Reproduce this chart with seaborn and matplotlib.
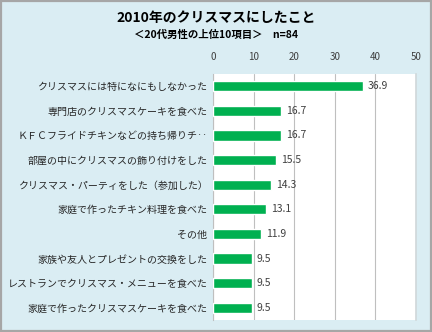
import matplotlib
matplotlib.use("Agg")
import matplotlib.pyplot as plt
import seaborn as sns
import pandas as pd
from matplotlib.patches import Rectangle

categories = [
    "クリスマスには特になにもしなかった",
    "専門店のクリスマスケーキを食べた",
    "ＫＦＣフライドチキンなどの持ち帰りチ‥",
    "部屋の中にクリスマスの飾り付けをした",
    "クリスマス・パーティをした（参加した）",
    "家庭で作ったチキン料理を食べた",
    "その他",
    "家族や友人とプレゼントの交換をした",
    "レストランでクリスマス・メニューを食べた",
    "家庭で作ったクリスマスケーキを食べた",
]
values = [36.9, 16.7, 16.7, 15.5, 14.3, 13.1, 11.9, 9.5, 9.5, 9.5]
xticks = [0, 10, 20, 30, 40, 50]
title = "2010年のクリスマスにしたこと"
subtitle = "＜20代男性の上位10項目＞　n=84"

sns.set_theme(style="white")
plt.rcParams['font.family'] = ['Noto Sans CJK JP', 'DejaVu Sans']

df = pd.DataFrame({"cat": categories, "val": values})

fig = plt.figure(figsize=(4.32, 3.32), dpi=100)
fig.patch.set_facecolor("#DAEDF3")
ax = fig.add_axes([213/432, 1 - 320/332, (416 - 213)/432, (320 - 74)/332])
ax.set_facecolor("white")

sns.barplot(data=df, x="val", y="cat", orient="h", color="#00B050",
            saturation=1, width=0.41, ax=ax, zorder=3)

ax.set_xlim(0, 50)
ax.set_ylim(9.5, -0.5)
ax.set_xticks(xticks)
ax.xaxis.tick_top()
ax.tick_params(axis="x", length=0, labelsize=7, colors="#404040", pad=9)
ax.tick_params(axis="y", length=0, labelsize=7.2, colors="#262626", pad=4)
ax.set_xlabel("")
ax.set_ylabel("")
ax.grid(axis="x", color="#BFBFBF", linewidth=0.8, zorder=0)
ax.grid(axis="y", visible=False)
for s in ["left", "right", "top", "bottom"]:
    ax.spines[s].set_visible(False)
ax.spines["left"].set_visible(True)
ax.spines["left"].set_color("#BFBFBF")
ax.spines["left"].set_linewidth(0.8)
ax.spines["right"].set_visible(True)
ax.spines["right"].set_color("#D0D8DA")
ax.spines["right"].set_linewidth(1.2)

for i, v in enumerate(values):
    ax.text(v + 1.2, i, f"{v:.1f}", va="center", ha="left", fontsize=7.5, color="#404040", zorder=4)

fig.text(216/432, 1 - 18/332, title, ha="center", va="center", fontsize=10, fontweight="bold", color="black")
fig.text(216/432, 1 - 35/332, subtitle, ha="center", va="center", fontsize=7.5, fontweight="bold", color="black")

# outer border
fig.patches.append(Rectangle((0.002, 0.003), 0.995, 0.994, transform=fig.transFigure,
                             fill=False, edgecolor="#A6A6A6", linewidth=1.6))

fig.savefig("out.png", dpi=100, facecolor=fig.get_facecolor())
